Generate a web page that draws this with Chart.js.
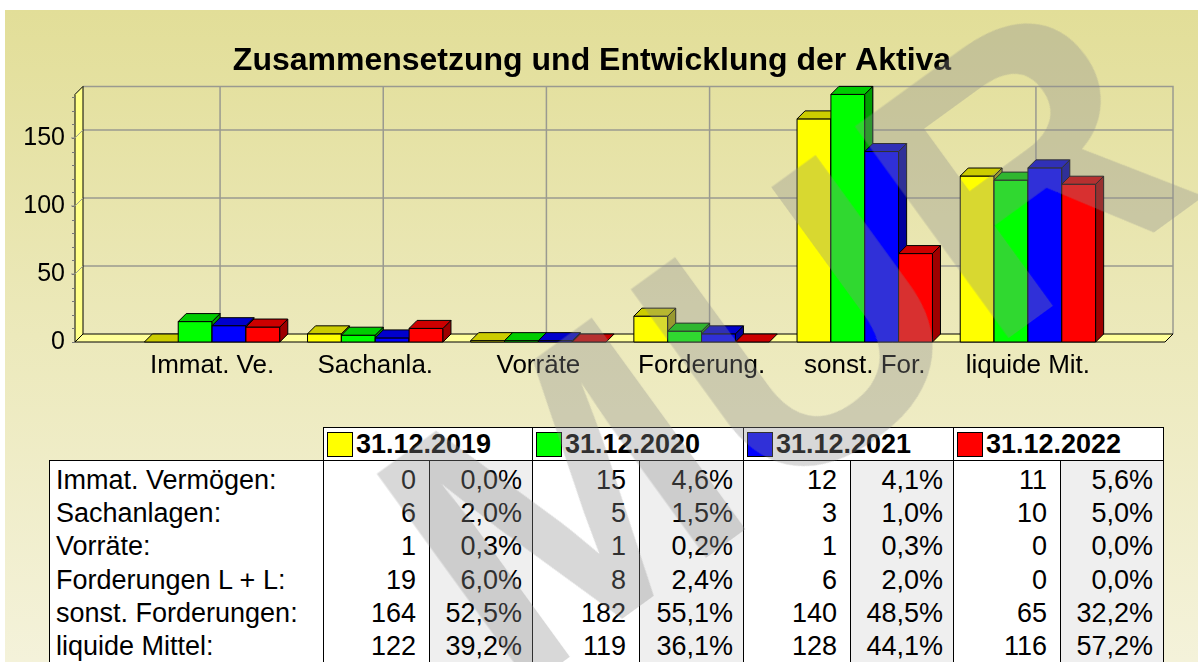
<!DOCTYPE html>
<html>
<head>
<meta charset="utf-8">
<script src="https://cdn.jsdelivr.net/npm/chart.js@4.4.1/dist/chart.umd.min.js"></script>
<style>
  html, body { margin: 0; padding: 0; background: #fff; }
  body { width: 1198px; height: 662px; position: relative; overflow: hidden; font-family: "Liberation Sans", Arial, sans-serif; }
  #bg { position: absolute; left: 5px; top: 10px; width: 1193px; height: 652px;
        background: linear-gradient(#e2de98 0%, #ece9bb 50%, #f4f2da 100%); }
  #c { position: absolute; left: 0; top: 0; }
  #tbl { position: absolute; left: 49px; top: 427px; border-collapse: collapse; table-layout: fixed; font-size: 27px; color: #000; }
  #tbl td { padding: 0; white-space: nowrap; overflow: hidden; }
  #tbl tr.head td { height: 32px; }
  #tbl tr.head td.per { border: 1px solid #000; background: #fff; font-weight: bold; font-size: 27px; padding-left: 3px; }
  #tbl td.per span.sw { display: inline-block; width: 24px; height: 23px; border: 1px solid #000; vertical-align: -4px; margin-right: 3px; }
  #tbl tr.row td { height: 33.2px; line-height: 33px; border-left: 1px solid #000; border-right: 1px solid #000; }
  #tbl tr.first td { border-top: 1px solid #000; padding-top: 3px; }
  #tbl td.lab { background: #fff; padding-left: 6px; }
  #tbl td.val { background: #fff; text-align: right; padding-right: 13px; }
  #tbl td.pct { background: #efefef; text-align: right; padding-right: 10px; }
  #wm { position: absolute; left: 783px; top: 340px; font: bold 380px "Liberation Sans", Arial, sans-serif;
        color: rgba(140,140,140,0.34); transform: translate(-50%, -50%) rotate(-36deg); white-space: nowrap; line-height: 1; pointer-events: none; }
</style>
</head>
<body>
<div id="bg"></div>
<canvas id="c" width="1198" height="390"></canvas>
<table id="tbl"></table>
<div id="wm">MUR</div>
<script>
const categories = ['Immat. Vermögen:', 'Sachanlagen:', 'Vorräte:', 'Forderungen L + L:', 'sonst. Forderungen:', 'liquide Mittel:'];
const shortLabels = ['Immat. Ve.', 'Sachanla.', 'Vorräte', 'Forderung.', 'sonst. For.', 'liquide Mit.'];
const periods = ['31.12.2019', '31.12.2020', '31.12.2021', '31.12.2022'];

const values2019 = [0, 6, 1, 19, 164, 122];
const values2020 = [15, 5, 1, 8, 182, 119];
const values2021 = [12, 3, 1, 6, 140, 128];
const values2022 = [11, 10, 0, 0, 65, 116];

const share2019 = ['0,0%', '2,0%', '0,3%', '6,0%', '52,5%', '39,2%'];
const share2020 = ['4,6%', '1,5%', '0,2%', '2,4%', '55,1%', '36,1%'];
const share2021 = ['4,1%', '1,0%', '0,3%', '2,0%', '48,5%', '44,1%'];
const share2022 = ['5,6%', '5,0%', '0,0%', '0,0%', '32,2%', '57,2%'];

const yTicks = [0, 50, 100, 150];

const series = [values2019, values2020, values2021, values2022];
const shares = [share2019, share2020, share2021, share2022];
const fronts = ['#ffff00', '#00ff00', '#0000ff', '#ff0000'];
const tops = ['#cccc00', '#00cc00', '#0000cc', '#cc0000'];
const sides = ['#9e9e00', '#009e00', '#00009e', '#9e0000'];

const DEPTH = 8;
const FONT = '"Liberation Sans", Arial, sans-serif';

// table under the chart
const tbl = document.getElementById('tbl');
const widths = [274, 106, 103, 107, 104, 107, 103, 107, 103];
let html = '<colgroup>' + widths.map(w => '<col style="width:' + w + 'px">').join('') + '</colgroup>';
html += '<tr class="head"><td></td>' + periods.map((p, i) =>
  '<td class="per" colspan="2"><span class="sw" style="background:' + fronts[i] + '"></span>' + p + '</td>').join('') + '</tr>';
categories.forEach((c, r) => {
  html += '<tr class="row' + (r === 0 ? ' first' : '') + '"><td class="lab">' + c + '</td>';
  series.forEach((s, i) => {
    html += '<td class="val">' + s[r] + '</td><td class="pct">' + shares[i][r] + '</td>';
  });
  html += '</tr>';
});
tbl.innerHTML = html;

function poly(ctx, pts, fill, stroke) {
  ctx.beginPath();
  ctx.moveTo(pts[0][0], pts[0][1]);
  for (let i = 1; i < pts.length; i++) ctx.lineTo(pts[i][0], pts[i][1]);
  ctx.closePath();
  if (fill) { ctx.fillStyle = fill; ctx.fill(); }
  if (stroke) { ctx.strokeStyle = stroke; ctx.lineWidth = 1; ctx.stroke(); }
}

const box3d = {
  id: 'box3d',
  beforeDatasetsDraw(chart) {
    const ctx = chart.ctx;
    const { left, right, top, bottom } = chart.chartArea;
    const xs = chart.scales.x, ys = chart.scales.y;
    ctx.save();
    ctx.strokeStyle = '#9a9a90';
    ctx.lineWidth = 1.5;
    // back wall grid
    ctx.beginPath();
    ctx.moveTo(left + DEPTH, top - DEPTH);
    ctx.lineTo(right + DEPTH, top - DEPTH);
    ctx.lineTo(right + DEPTH, bottom - DEPTH);
    yTicks.forEach(v => {
      if (v === 0) return;
      const y = ys.getPixelForValue(v);
      ctx.moveTo(left + DEPTH, y - DEPTH);
      ctx.lineTo(right + DEPTH, y - DEPTH);
    });
    shortLabels.forEach((l, i) => {
      const x = xs.getPixelForValue(i) + DEPTH;
      ctx.moveTo(x, top - DEPTH);
      ctx.lineTo(x, bottom - DEPTH);
    });
    ctx.stroke();
    // left wall
    poly(ctx, [[left, top], [left + DEPTH, top - DEPTH], [left + DEPTH, bottom - DEPTH], [left, bottom]], '#ffff88', '#000');
    ctx.strokeStyle = '#9a9a90';
    ctx.lineWidth = 1;
    ctx.beginPath();
    yTicks.forEach(v => {
      if (v === 0) return;
      const y = ys.getPixelForValue(v);
      ctx.moveTo(left - 4, y);
      ctx.lineTo(left, y);
      ctx.lineTo(left + DEPTH, y - DEPTH);
    });
    ctx.stroke();
    // minor ticks on the front edge
    ctx.strokeStyle = '#777';
    ctx.beginPath();
    for (let v = 0; v <= 180; v += 10) {
      const y = Math.round(ys.getPixelForValue(v)) + 0.5;
      ctx.moveTo(left - 3, y);
      ctx.lineTo(left, y);
    }
    ctx.stroke();
    // floor
    poly(ctx, [[left, bottom], [right, bottom], [right + DEPTH, bottom - DEPTH], [left + DEPTH, bottom - DEPTH]], '#ffff99', '#000');
    ctx.restore();
  },
  afterDatasetsDraw(chart) {
    // redraw every bar as a box, left to right, so later boxes hide earlier side faces
    const ctx = chart.ctx;
    const metas = chart.getSortedVisibleDatasetMetas().slice().sort((a, b) => a.index - b.index);
    ctx.save();
    categories.forEach((c, j) => {
      metas.forEach(meta => {
        const i = meta.index;
        const bar = meta.data[j];
        const { x, y, base, width } = bar.getProps(['x', 'y', 'base', 'width'], true);
        const xl = x - width / 2, xr = x + width / 2;
        if (base - y > 0.5) {
          poly(ctx, [[xl, y], [xr, y], [xr, base], [xl, base]], fronts[i], '#000');
          poly(ctx, [[xr, y], [xr + DEPTH, y - DEPTH], [xr + DEPTH, base - DEPTH], [xr, base]], sides[i], '#000');
        }
        poly(ctx, [[xl, y], [xl + DEPTH, y - DEPTH], [xr + DEPTH, y - DEPTH], [xr, y]], tops[i], '#000');
      });
    });
    ctx.restore();
  }
};

const ctx = document.getElementById('c').getContext('2d');
new Chart(ctx, {
  type: 'bar',
  data: {
    datasets: periods.map((p, i) => ({
      label: p,
      data: series[i].map((v, j) => ({ x: j, y: v })),
      backgroundColor: fronts[i],
      borderColor: '#000',
      borderWidth: 1
    }))
  },
  options: {
    responsive: false,
    animation: false,
    categoryPercentage: 0.83,
    barPercentage: 1,
    layout: { padding: { left: 0, right: 14, top: 0, bottom: 0 } },
    plugins: {
      legend: { display: false },
      tooltip: { enabled: false },
      title: {
        display: true,
        text: 'Zusammensetzung und Entwicklung der Aktiva',
        color: '#000',
        font: { family: FONT, size: 32, weight: 'bold' },
        padding: { top: 42, bottom: 14 }
      }
    },
    scales: {
      x: {
        type: 'linear',
        offset: false,
        min: -0.84,
        max: 5.84,
        grid: { display: false, offset: false },
        border: { display: false },
        afterBuildTicks: s => { s.ticks = shortLabels.map((l, i) => ({ value: i })); },
        afterFit: s => { s.height = 48; },
        ticks: {
          callback: v => shortLabels[v],
          color: '#000',
          font: { family: FONT, size: 26 },
          padding: 0,
          autoSkip: false,
          maxRotation: 0
        }
      },
      y: {
        min: 0,
        max: 182,
        grid: { display: false },
        border: { display: false },
        afterBuildTicks: s => { s.ticks = yTicks.map(v => ({ value: v })); },
        afterFit: s => { s.width = 75; },
        ticks: { color: '#000', font: { family: FONT, size: 25 }, padding: 2 }
      },
      y2: {
        position: 'right',
        grid: { display: false },
        border: { display: false },
        ticks: { display: false },
        afterFit: s => { s.width = 19; }
      }
    }
  },
  plugins: [box3d]
});
</script>
</body>
</html>
